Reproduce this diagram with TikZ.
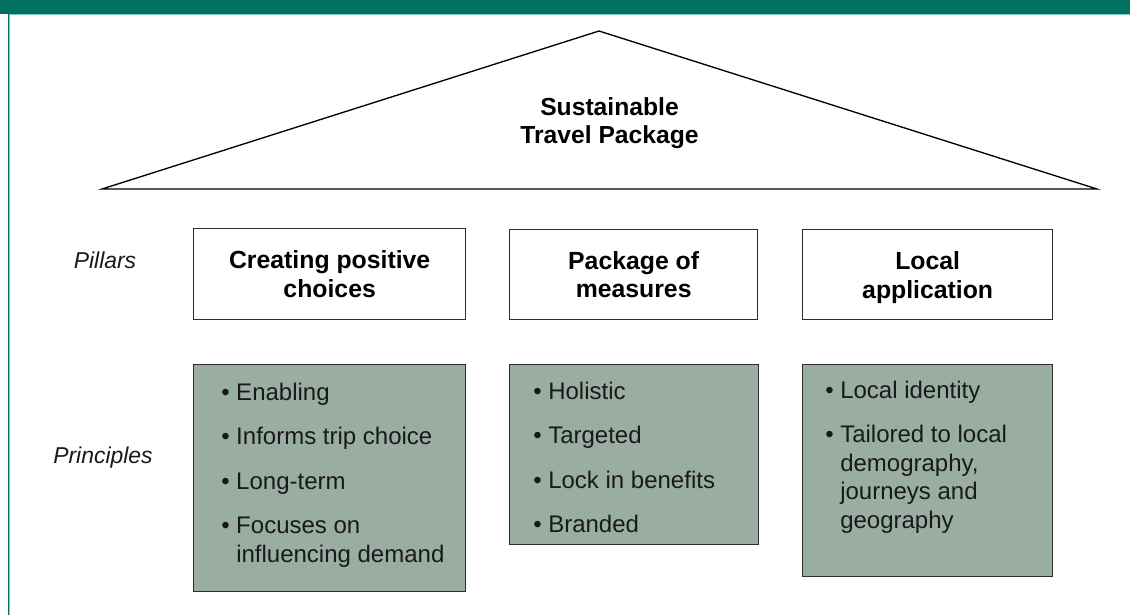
\documentclass[tikz,border=0pt]{standalone}
\usepackage{fontspec}
\setmainfont{Liberation Sans}
\definecolor{tealbar}{RGB}{0,112,96}
\definecolor{tealedge}{RGB}{130,200,188}
\definecolor{sage}{RGB}{153,173,163}
\definecolor{boxline}{RGB}{45,45,45}
\definecolor{bodytext}{RGB}{25,25,25}
\tikzset{
  pillarbox/.style={draw=boxline, line width=1pt, fill=white, inner sep=0pt, anchor=north west,
    align=center, font=\bfseries\fontsize{18.6}{21.6}\selectfont},
  principlebox/.style={draw=boxline, line width=1.1pt, fill=sage, inner sep=0pt, anchor=north west},
  bullettext/.style={anchor=north west, inner sep=0pt, align=left, text=bodytext,
    font=\fontsize{18}{21.4}\selectfont},
  rowlabel/.style={anchor=base, inner sep=0pt, font=\itshape\fontsize{17.2}{20}\selectfont, text=bodytext},
  titletext/.style={anchor=north, inner sep=0pt, align=center, font=\bfseries\fontsize{18.5}{21}\selectfont},
  roof/.style={draw=black, line width=1pt, line join=miter}
}
\newcommand{\bul}{\makebox[11.25pt][l]{•}}
\newcommand{\ind}{\hspace*{11.25pt}}
\newcommand{\nodepth}[1]{\raisebox{0pt}[\height][0pt]{#1}}
\begin{document}
\begin{tikzpicture}[x=0.75pt,y=-0.75pt]
\useasboundingbox (0,0) rectangle (1130,615);
% frame
\fill[white] (0,0) rectangle (1130,615);
\fill[tealbar] (0,0) rectangle (1130,14);
\fill[tealedge] (9,14) rectangle (1130,15.3);
\fill[tealbar] (7.6,14) rectangle (9.4,615);
\fill[tealedge] (9.4,15) rectangle (10.4,615);
% roof
\coordinate (roofL) at (102,189);
\coordinate (roofT) at (599,31);
\coordinate (roofR) at (1097,189);
\draw[roof] (roofL) -- (roofT) -- (roofR) -- cycle;
\node[titletext] (title) at (609.5,97.5) {Sustainable\\Travel Package};
% row labels
\node[rowlabel] (lblpillars) at (105,268) {Pillars};
\node[rowlabel] (lblprinciples) at (103,463) {Principles};
% pillars
\node[pillarbox, minimum width=204pt, minimum height=68.25pt] (p1) at (193,228) {Creating positive\\choices};
\node[pillarbox, minimum width=186pt, minimum height=67.5pt] (p2) at (509,229) {Package of\\measures};
\node[pillarbox, minimum width=187.5pt, minimum height=67.5pt] (p3) at (802,229) {Local\\\nodepth{application}};
% principles
\node[principlebox, minimum width=204pt, minimum height=170.25pt] (q1) at (193,364) {};
\node[principlebox, minimum width=186.75pt, minimum height=135pt] (q2) at (509,364) {};
\node[principlebox, minimum width=187.5pt, minimum height=159pt] (q3) at (802,364) {};
\node[bullettext] (t1) at (221,382.5) {\bul Enabling\\[12pt]\bul Informs trip choice\\[12pt]\bul Long-term\\[12pt]\bul Focuses on\\\ind influencing demand};
\node[bullettext] (t2) at (533,381.5) {\bul Holistic\\[12pt]\bul Targeted\\[12pt]\bul Lock in benefits\\[12pt]\bul Branded};
\node[bullettext] (t3) at (825,380.5) {\bul Local identity\\[12pt]\bul Tailored to local\\\ind demography,\\\ind journeys and\\\ind geography};
\end{tikzpicture}
\end{document}
